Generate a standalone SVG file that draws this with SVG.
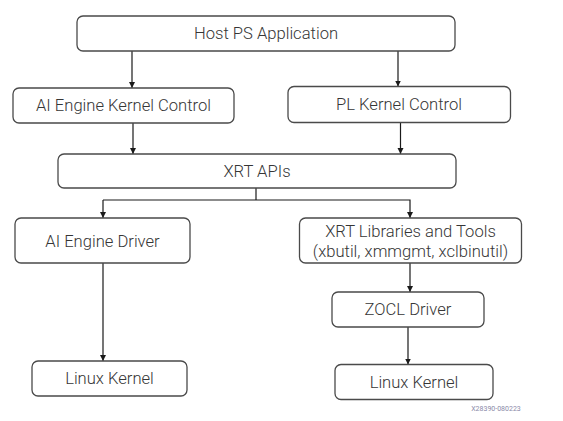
<svg xmlns="http://www.w3.org/2000/svg" width="563" height="421" viewBox="0 0 563 421">
<style>
.box{fill:#fff;stroke:#4a4a4a;stroke-width:1.3}
.t{font-family:Roboto,"Liberation Sans",sans-serif;font-weight:300;font-size:16.6px;fill:#363636;text-anchor:middle}
.c{fill:none;stroke:#1a1a1a;stroke-width:1.2}
.id{font-family:Roboto,"Liberation Sans",sans-serif;font-size:7px;fill:#8a8aa8;text-anchor:middle}
</style>
<defs>
<marker id="ah" viewBox="0 0 10 10" refX="10" refY="5" markerWidth="6" markerHeight="8" markerUnits="userSpaceOnUse" orient="auto">
<path d="M0,0 L10,5 L0,10 z" fill="#1a1a1a"/>
</marker>
</defs>
<rect width="563" height="421" fill="#fff"/>
<g id="connectors">
<line class="c" x1="132" y1="51" x2="132" y2="88" marker-end="url(#ah)"/>
<line class="c" x1="398" y1="51" x2="398" y2="86.5" marker-end="url(#ah)"/>
<line class="c" x1="133" y1="123" x2="133" y2="154" marker-end="url(#ah)"/>
<line class="c" x1="400.5" y1="122.5" x2="400.5" y2="154" marker-end="url(#ah)"/>
<polyline class="c" points="256,188 256,200"/>
<polyline class="c" points="103,200 410,200 410,218" marker-end="url(#ah)"/>
<line class="c" x1="103" y1="200" x2="103" y2="218" marker-end="url(#ah)"/>
<line class="c" x1="103" y1="263" x2="103" y2="361" marker-end="url(#ah)"/>
<line class="c" x1="410" y1="263" x2="410" y2="292" marker-end="url(#ah)"/>
<line class="c" x1="408" y1="327" x2="408" y2="364.5" marker-end="url(#ah)"/>
</g>
<g id="host">
<rect class="box" x="77" y="16" width="378" height="35" rx="6"/>
<text class="t" x="266" y="39">Host PS Application</text>
</g>
<g id="aie-kernel-control">
<rect class="box" x="13" y="88" width="221" height="35" rx="6"/>
<text class="t" x="123.5" y="111">AI Engine Kernel Control</text>
</g>
<g id="pl-kernel-control">
<rect class="box" x="288" y="86.5" width="222.5" height="36" rx="6"/>
<text class="t" x="399" y="110">PL Kernel Control</text>
</g>
<g id="xrt-apis">
<rect class="box" x="58" y="154" width="398" height="34" rx="6"/>
<text class="t" x="257" y="176.5">XRT APIs</text>
</g>
<g id="aie-driver">
<rect class="box" x="15" y="218" width="175" height="45" rx="6"/>
<text class="t" x="102.5" y="246.5">AI Engine Driver</text>
</g>
<g id="xrt-libraries">
<rect class="box" x="299.5" y="218" width="222" height="45" rx="6"/>
<text class="t" x="410.5" y="236.5">XRT Libraries and Tools</text>
<text class="t" x="410.5" y="256.5">(xbutil, xmmgmt, xclbinutil)</text>
</g>
<g id="zocl-driver">
<rect class="box" x="332" y="292" width="152" height="35" rx="6"/>
<text class="t" x="408" y="315">ZOCL Driver</text>
</g>
<g id="linux-kernel-left">
<rect class="box" x="32" y="361" width="155" height="35" rx="6"/>
<text class="t" x="109.5" y="384">Linux Kernel</text>
</g>
<g id="linux-kernel-right">
<rect class="box" x="335" y="364.5" width="158" height="35" rx="6"/>
<text class="t" x="414" y="387.5">Linux Kernel</text>
</g>
<text class="id" x="496" y="411">X28390-080223</text>
</svg>
